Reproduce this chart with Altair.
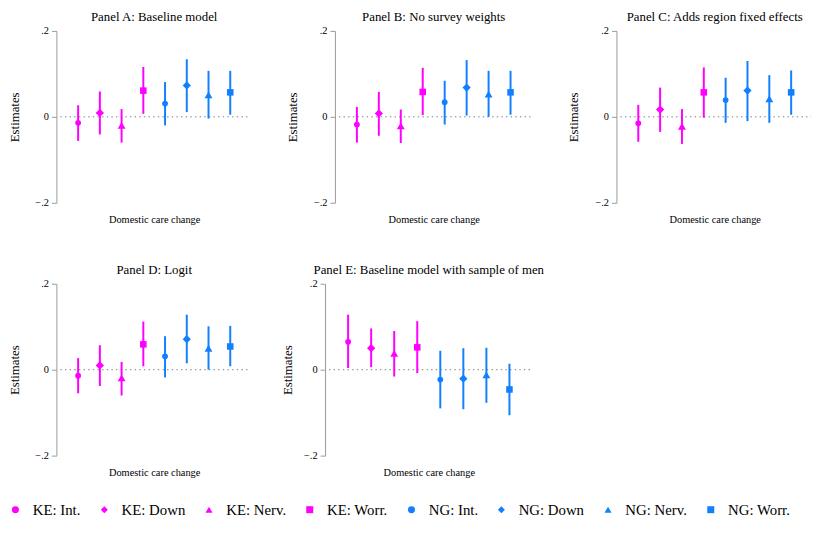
import altair as alt
import pandas as pd

SERIF = "Liberation Serif"
MAGENTA = "#ff00ff"
BLUE = "#1080ff"

series = ["KE: Int.", "KE: Down", "KE: Nerv.", "KE: Worr.",
          "NG: Int.", "NG: Down", "NG: Nerv.", "NG: Worr."]
positions = [1, 2, 3, 4, 5, 6, 7, 8]
shapes = ["circle", "diamond", "triangle-up", "square"] * 2
colors = [MAGENTA] * 4 + [BLUE] * 4
outcomes = ["Int.", "Down", "Nerv.", "Worr."]
outcome_shapes = ["circle", "diamond", "triangle-up", "square"]
outcome_sizes = [34, 70, 64, 44]
y_ticks = [-0.2, 0, 0.2]

titles = ["Panel A: Baseline model", "Panel B: No survey weights",
          "Panel C: Adds region fixed effects", "Panel D: Logit",
          "Panel E: Baseline model with sample of men"]

est_A = [-0.014, 0.009, -0.020, 0.061, 0.031, 0.073, 0.051, 0.057]
lo_A = [-0.056, -0.041, -0.060, 0.007, -0.020, 0.011, -0.004, 0.005]
hi_A = [0.027, 0.059, 0.018, 0.116, 0.081, 0.134, 0.107, 0.107]

est_B = [-0.018, 0.008, -0.021, 0.058, 0.034, 0.068, 0.053, 0.057]
lo_B = [-0.060, -0.044, -0.061, 0.004, -0.018, 0.003, 0.000, 0.005]
hi_B = [0.023, 0.058, 0.017, 0.114, 0.084, 0.132, 0.107, 0.107]

est_C = [-0.015, 0.017, -0.022, 0.057, 0.039, 0.061, 0.042, 0.057]
lo_C = [-0.058, -0.035, -0.063, -0.002, -0.014, -0.010, -0.014, 0.005]
hi_C = [0.028, 0.068, 0.018, 0.115, 0.091, 0.130, 0.097, 0.108]

est_D = [-0.014, 0.010, -0.019, 0.059, 0.031, 0.071, 0.050, 0.054]
lo_D = [-0.055, -0.038, -0.060, 0.008, -0.018, 0.015, 0.000, 0.008]
hi_D = [0.027, 0.057, 0.018, 0.112, 0.078, 0.128, 0.101, 0.102]

est_E = [0.065, 0.050, 0.038, 0.052, -0.023, -0.021, -0.012, -0.046]
lo_E = [0.004, 0.006, -0.016, -0.008, -0.090, -0.092, -0.077, -0.106]
hi_E = [0.128, 0.096, 0.090, 0.113, 0.044, 0.050, 0.051, 0.014]

cscale = alt.Scale(domain=series, range=colors)
sscale = alt.Scale(domain=series, range=shapes)
yscale = alt.Scale(domain=[-0.2, 0.2], nice=False, zero=False)
xscale = alt.Scale(domain=[0, 9], nice=False, zero=False)

legend = alt.Legend(
    title=None, orient="none", legendX=-49, legendY=477, direction="horizontal",
    labelFont=SERIF, labelFontSize=15, labelColor="black",
    symbolSize=50, symbolStrokeWidth=0, columnPadding=16, labelOffset=10,
    padding=0,
)


def panel(title, est, lo, hi, w, ytitle_pad):
    df = pd.DataFrame({"pos": positions, "series": series,
                       "est": est, "lo": lo, "hi": hi})
    xaxis = alt.Axis(title="Domestic care change", domain=False, ticks=False,
                     labels=False, grid=False, titlePadding=12)
    yaxis = alt.Axis(title="Estimates", values=y_ticks, grid=False,
                     labelExpr="datum.value == 0 ? '0' : replace(format(datum.value, '.1f'), '0.', '.')",
                     titlePadding=ytitle_pad)
    xenc = alt.X("pos:Q", scale=xscale, axis=xaxis)
    zero = alt.Chart(pd.DataFrame({"ref": [0.0]})).mark_rule(
        color="#7a7a7a", strokeDash=[1.4, 3.3], strokeWidth=1
    ).encode(x=alt.value(4), x2=alt.value(w - 2),
             y=alt.Y("ref:Q", scale=yscale, axis=yaxis))
    base = alt.Chart(df)
    layers = [zero]
    for prefix, col in [("KE", MAGENTA), ("NG", BLUE)]:
        layers.append(
            base.transform_filter(f"indexof(datum.series, '{prefix}') == 0")
            .mark_rule(strokeWidth=2, color=col)
            .encode(x=xenc, y=alt.Y("lo:Q", scale=yscale, axis=yaxis), y2="hi:Q")
        )
    for key, shp, sz in zip(outcomes, outcome_shapes, outcome_sizes):
        layers.append(
            base.transform_filter(f"indexof(datum.series, '{key}') >= 0")
            .mark_point(filled=True, opacity=1, size=sz)
            .encode(
                x=xenc,
                y=alt.Y("est:Q", scale=yscale, axis=yaxis),
                color=alt.Color("series:N", scale=cscale, legend=legend),
                shape=alt.Shape("series:N", scale=sscale, legend=legend),
            )
        )
    return alt.layer(*layers).properties(
        width=w, height=174,
        title=alt.TitleParams(title, anchor="middle", offset=2),
    )


pA = panel(titles[0], est_A, lo_A, hi_A, 198, 14)
pB = panel(titles[1], est_B, lo_B, hi_B, 200, 14)
pC = panel(titles[2], est_C, lo_C, hi_C, 199, 15)
pD = panel(titles[3], est_D, lo_D, hi_D, 198, 14)
pE = panel(titles[4], est_E, lo_E, hi_E, 210, 9)

row1 = alt.hconcat(pA, pB, pC, spacing=35)
row2 = alt.hconcat(pD, pE, spacing=30)

chart = alt.vconcat(row1, row2, spacing=39).properties(
    padding={"left": 0, "top": 0, "right": 0, "bottom": 0}
).configure_view(stroke=None).configure_axis(
    labelFont=SERIF, labelFontSize=10.5, labelColor="black", labelPadding=3,
    titleFont=SERIF, titleFontSize=13, titleFontWeight="normal", titleColor="black",
    domainColor="#999999", tickColor="#999999", tickSize=5,
).configure_axisX(titleFontSize=10.5).configure_title(
    font=SERIF, fontSize=13, fontWeight="normal", color="black"
)

chart.save("out.html", embed_options={"renderer": "svg", "actions": False})
